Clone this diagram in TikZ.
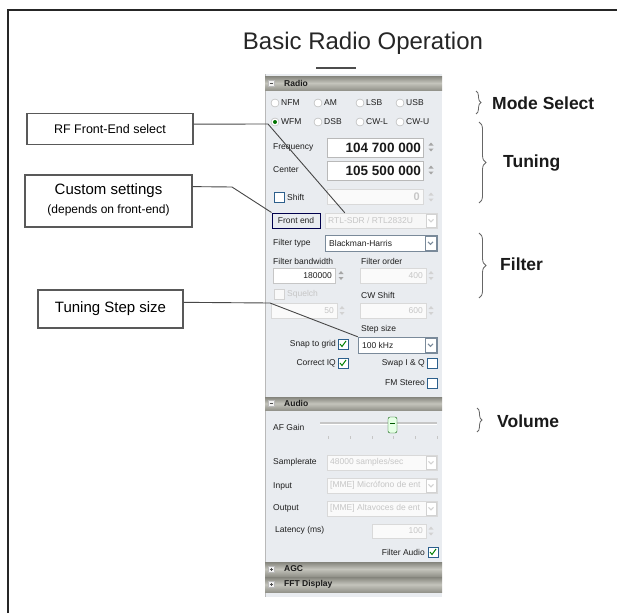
\documentclass[tikz,border=0pt]{standalone}
\usepackage{fontspec}
\setmainfont{Liberation Sans}
\usetikzlibrary{decorations.pathreplacing,calc}

\definecolor{panelbg}{HTML}{E9ECF0}
\definecolor{barA}{HTML}{84847C}
\definecolor{barB}{HTML}{C4C4BC}
\definecolor{barC}{HTML}{94948C}
\definecolor{boxedge}{HTML}{7A8A9A}
\definecolor{chkedge}{HTML}{2C5F8C}
\definecolor{inkdark}{HTML}{1A1A1A}

\newcommand\guifont{\fontsize{8.5}{9}\selectfont}

% section header bar of the panel: y1, y2, plus-sign flag, caption
\newcommand\guiBar[4]{%
  \shade[top color=barA, bottom color=barC, middle color=barB] (265,#1) rectangle (442,#2);
  \draw[gray!55, fill=gray!10] (268,{(#1+#2)/2-3}) rectangle (274,{(#1+#2)/2+3});
  \draw[gray!60!black, line width=0.6] (269.5,{(#1+#2)/2}) -- (272.5,{(#1+#2)/2});
  \ifnum#3=1 \draw[gray!60!black, line width=0.6] (271,{(#1+#2)/2-1.5}) -- (271,{(#1+#2)/2+1.5}); \fi
  \node[font=\guifont\bfseries, text=inkdark, anchor=west, inner sep=0] at (284,{(#1+#2)/2}) {#4};
}
% up/down spin arrows centred at x,y
\newcommand\guiSpin[3]{%
  \fill[#3] ({#1-2.5},{#2-1.5}) -- ({#1+2.5},{#2-1.5}) -- (#1,{#2-4.5}) -- cycle;
  \fill[#3] ({#1-2.5},{#2+1.5}) -- ({#1+2.5},{#2+1.5}) -- (#1,{#2+4.5}) -- cycle;
}
% drop-down button at the right end of a combo box: x1 y1 x2 y2 colour
\newcommand\guiDrop[5]{%
  \draw[#5, fill=white] (#1,#2) rectangle (#3,#4);
  \draw[#5, line width=1.1] ({(#1+#3)/2-2.5},{(#2+#4)/2-1.2}) -- ({(#1+#3)/2},{(#2+#4)/2+1.3}) -- ({(#1+#3)/2+2.5},{(#2+#4)/2-1.2});
}
% green tick inside a check box
\newcommand\guiTick[2]{%
  \draw[green!50!black, line width=1] ({#1-3},{#2}) -- ({#1-1},{#2+2.5}) -- ({#1+3},{#2-3});
}

\begin{document}
\begin{tikzpicture}[x=1pt, y=-1pt,
  gtxt/.style={font=\guifont, text=black!88, inner sep=0, anchor=west},
  gfade/.style={font=\guifont, text=gray!45, inner sep=0, anchor=west},
  radiob/.style={circle, draw=gray!65, fill=white, inner sep=0, minimum size=8},
  chk/.style={rectangle, draw=chkedge, fill=white, inner sep=0, minimum size=10},
  chkfade/.style={rectangle, draw=gray!35, fill=gray!5, inner sep=0, minimum size=10},
  callout/.style={draw=black!65, line width=1.3pt, fill=white, inner sep=0, align=center},
  conn/.style={draw=black!72, line width=0.9pt},
  bracket/.style={draw=black!60, line width=0.8pt, decorate},
  sidelabel/.style={font=\fontsize{17.5}{20}\selectfont\bfseries, text=inkdark, anchor=west, inner sep=0}]

\useasboundingbox (0,0) rectangle (617,613);
\fill[white] (0,0) rectangle (617,613);

% outer frame
\draw[black!85, line width=1.2pt] (8,613) -- (8,10) -- (617,10);

% title
\node[font=\fontsize{24}{28}\selectfont, text=black!85] (title) at (363,43) {Basic Radio Operation};

% panel background
\fill[panelbg] (265,74) rectangle (442,597);
\draw[gray!55] (265,74) -- (265,597);
\draw[black!70, line width=1.2pt] (316,68) -- (356,68);

% ---------------- Radio section ----------------
\guiBar{76}{90}{0}{Radio}

% mode radio buttons
\foreach \x/\t in {275/NFM, 318/AM, 360/LSB, 400/USB} {
  \node[radiob] at (\x,103) {};
  \node[gtxt] at (\x+6,103) {\t};
}
\foreach \x/\t in {275/WFM, 318/DSB, 360/CW-L, 400/CW-U} {
  \node[radiob] at (\x,122) {};
  \node[gtxt] at (\x+6,122) {\t};
}
\fill[green!45!black] (275,122) circle (2);

% frequency and centre
\node[gtxt] (freqlbl) at (273,147) {Frequency};
\draw[gray!55, fill=white] (327,138) rectangle (423,157);
\node[font=\fontsize{13.5}{15}\selectfont\bfseries, text=inkdark, anchor=east, inner sep=0] (freq) at (421,147.5) {104 700 000};
\guiSpin{431}{147}{gray!70}

\node[gtxt] (centlbl) at (273,170) {Center};
\draw[gray!55, fill=white] (327,161) rectangle (423,180);
\node[font=\fontsize{13.5}{15}\selectfont\bfseries, text=inkdark, anchor=east, inner sep=0] (cent) at (421,170.5) {105 500 000};
\guiSpin{431}{170}{gray!70}

% shift
\node[chk] (shiftchk) at (279,197) {};
\node[gtxt] at (287,197) {Shift};
\draw[gray!30, fill=gray!4] (327,189) rectangle (423,204);
\node[font=\fontsize{11}{12}\selectfont\bfseries, text=gray!45, anchor=east, inner sep=0] at (420,197) {0};
\guiSpin{431}{197}{gray!35}

% front end
\node[draw=black!70!blue, line width=1pt, fill=panelbg, minimum width=48, minimum height=15, inner sep=0, font=\guifont, text=black!85] (febtn) at (296,220.5) {Front end};
\node[draw=gray!30, fill=gray!6, minimum width=112, minimum height=15, inner sep=0] (fecombo) at (381,220.5) {};
\node[gfade] at (328,220.5) {RTL-SDR / RTL2832U};
\guiDrop{426}{214}{436}{227}{gray!35}

% filter
\node[gtxt] at (273,243) {Filter type};
\draw[boxedge, fill=white] (325,235) rectangle (437,251);
\node[gtxt] at (329,243) {Blackman-Harris};
\guiDrop{425}{236}{436}{250}{boxedge}

\node[gtxt] at (273,261) {Filter bandwidth};
\node[gtxt] at (361,261) {Filter order};
\draw[gray!45, fill=white] (273,268) rectangle (335,283);
\node[gtxt, anchor=east] at (332,275.5) {180000};
\guiSpin{341}{275.5}{gray!70}
\draw[gray!30, fill=gray!4] (360,268) rectangle (426,283);
\node[gfade, anchor=east] at (423,275.5) {400};
\guiSpin{431}{275.5}{gray!35}

\node[chkfade] at (279,294) {};
\node[gfade] at (287,294) {Squelch};
\node[gtxt] at (361,295) {CW Shift};
\draw[gray!30, fill=gray!4] (271,303) rectangle (337,318);
\node[gfade, anchor=east] at (334,310.5) {50};
\guiSpin{342}{310.5}{gray!35}
\draw[gray!30, fill=gray!4] (360,303) rectangle (426,318);
\node[gfade, anchor=east] at (423,310.5) {600};
\guiSpin{431}{310.5}{gray!35}

% step size and switches
\node[gtxt] at (361,329) {Step size};
\node[gtxt, anchor=east] at (336,344) {Snap to grid};
\node[chk] (snapchk) at (343,344) {};
\guiTick{343}{344}
\node[draw=boxedge, fill=white, minimum width=79, minimum height=16, inner sep=0] (stepcombo) at (397.5,345) {};
\node[gtxt] at (362,345) {100 kHz};
\guiDrop{425}{338}{436}{352}{boxedge}

\node[gtxt, anchor=east] at (336,363) {Correct IQ};
\node[chk] (iqchk) at (343,363) {};
\guiTick{343}{363}
\node[gtxt, anchor=east] at (425,363) {Swap I \& Q};
\node[chk] (swapchk) at (432,363) {};
\node[gtxt, anchor=east] at (425,383) {FM Stereo};
\node[chk] (fmchk) at (432,383) {};

% ---------------- Audio section ----------------
\guiBar{397}{410}{0}{Audio}

\node[gtxt] at (273,427) {AF Gain};
\draw[gray!45, line width=1.6pt] (320,423) -- (437,423);
\draw[white, line width=0.5pt] (320,424.2) -- (437,424.2);
\foreach \x in {328,350,372,393,415,437} \draw[gray!45] (\x,436) -- (\x,439);
\draw[green!35!black, fill=green!10!white, rounded corners=2] (388,417) rectangle (397,433);
\draw[green!35!black, line width=0.8] (390,423) -- (395,423);

\node[gtxt] at (273,462) {Samplerate};
\draw[gray!30, fill=gray!4] (327,455) rectangle (437,470);
\node[gfade] at (330,462.5) {48000 samples/sec};
\guiDrop{426}{456}{436}{469}{gray!35}

\node[gtxt] at (273,486) {Input};
\draw[gray!30, fill=gray!4] (327,478) rectangle (437,493);
\node[gfade] at (330,485.5) {[MME] Micrófono de ent};
\guiDrop{426}{479}{436}{492}{gray!35}

\node[gtxt] at (273,508) {Output};
\draw[gray!30, fill=gray!4] (327,501) rectangle (437,516);
\node[gfade] at (330,508.5) {[MME] Altavoces de ent};
\guiDrop{426}{502}{436}{515}{gray!35}

\node[gtxt] at (275,530) {Latency (ms)};
\draw[gray!30, fill=gray!4] (372,524) rectangle (426,538);
\node[gfade, anchor=east] at (423,531) {100};
\guiSpin{431}{531}{gray!35}

\node[gtxt, anchor=east] at (425,552) {Filter Audio};
\node[chk] (filtchk) at (433,552) {};
\guiTick{433}{552}

% collapsed sections
\guiBar{562}{576}{1}{AGC}
\guiBar{577}{592}{1}{FFT Display}

% ---------------- callouts on the left ----------------
\node[callout, minimum width=166, minimum height=31, font=\fontsize{12.5}{14}\selectfont] (rfsel) at (110,129) {RF Front-End select};
\node[callout, minimum width=167, minimum height=52] (custom) at (108.5,201) {};
\node[font=\fontsize{15}{17}\selectfont, inner sep=0] (customA) at (108.5,191) {Custom settings};
\node[font=\fontsize{12}{14}\selectfont, inner sep=0] (customB) at (108.5,210) {(depends on front-end)};
\node[callout, minimum width=145, minimum height=38, font=\fontsize{15}{17}\selectfont] (stepsz) at (110.5,309) {Tuning Step size};

\draw[conn] ($(rfsel.north east)!0.35!(rfsel.south east)$) -- (268,124) -- ($(fecombo.north west)+(20,0)$);
\draw[conn] ($(custom.north east)!0.23!(custom.south east)$) -- (232,187) -- (febtn.north west);
\draw[conn] ($(stepsz.north east)!0.33!(stepsz.south east)$) -- (270,303) -- (stepcombo.north west);

% ---------------- group brackets on the right ----------------
\draw[bracket, decoration={brace, amplitude=5pt}] (476,91) -- (476,114);
\node[sidelabel] (modesel) at (492,103) {Mode Select};
\draw[bracket, decoration={brace, amplitude=7pt}] (479,122) -- (479,203);
\node[sidelabel] (tuning) at (503,163) {Tuning};
\draw[bracket, decoration={brace, amplitude=7pt}] (479,233) -- (479,298);
\node[sidelabel] (filter) at (500,264) {Filter};
\draw[bracket, decoration={brace, amplitude=5pt}] (477,408) -- (477,432);
\node[sidelabel] (volume) at (497,421) {Volume};

\end{tikzpicture}
\end{document}
